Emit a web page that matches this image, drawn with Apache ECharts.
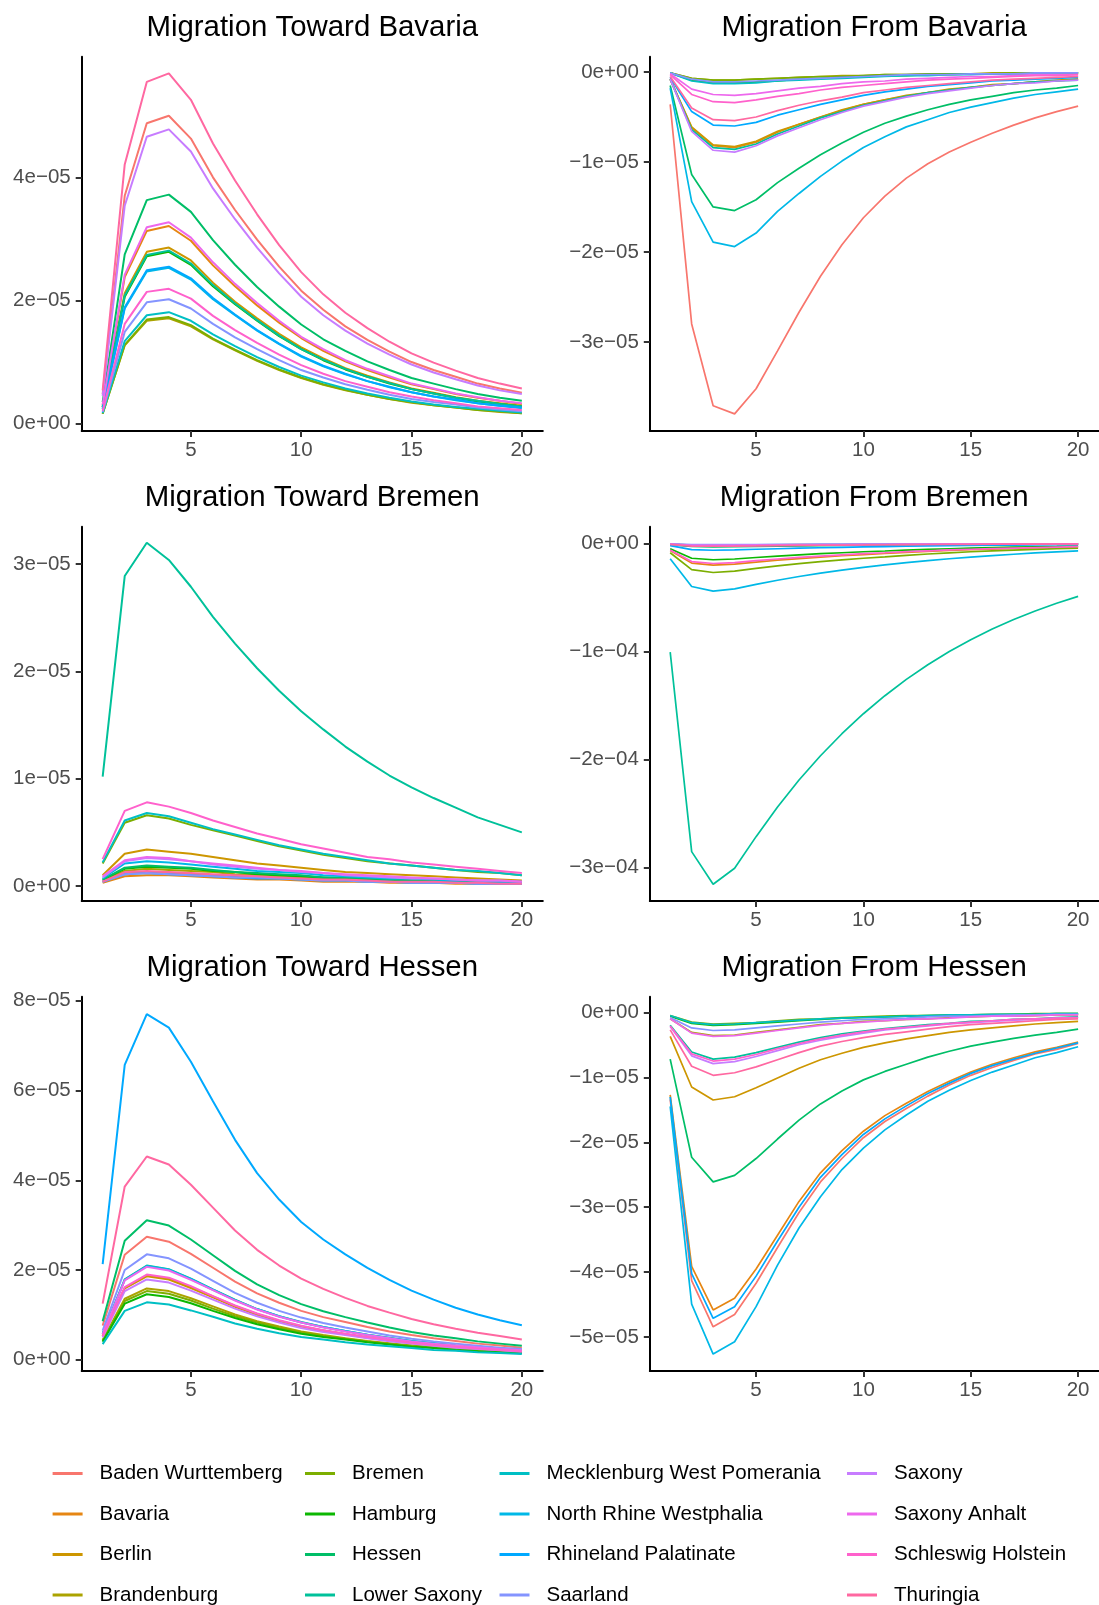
<!DOCTYPE html>
<html>
<head>
<meta charset="utf-8">
<title>Migration</title>
<script src="https://cdn.jsdelivr.net/npm/echarts@6/dist/echarts.min.js"></script>
<style>
  html, body { margin: 0; padding: 0; background: #fff; }
  #chart { width: 1099px; height: 1605px; }
</style>
</head>
<body>
<div id="chart"></div>
<script>
// values are in units of 1e-6
var states = ["Baden Wurttemberg", "Bavaria", "Berlin", "Brandenburg", "Bremen", "Hamburg", "Hessen",
  "Lower Saxony", "Mecklenburg West Pomerania", "North Rhine Westphalia", "Rhineland Palatinate",
  "Saarland", "Saxony", "Saxony Anhalt", "Schleswig Holstein", "Thuringia"];
var steps = [1, 2, 3, 4, 5, 6, 7, 8, 9, 10, 11, 12, 13, 14, 15, 16, 17, 18, 19, 20];
var xTicks = [5, 10, 15, 20];

var towardBavaria = [
  [4.8,37.0,48.8,50.0,46.3,40.0,34.7,29.9,25.5,21.6,18.5,15.8,13.6,11.7,10.0,8.7,7.6,6.5,5.7,5.0],
  [3.0,23.8,31.3,32.1,29.7,25.7,22.3,19.2,16.4,13.9,11.8,10.1,8.7,7.5,6.4,5.6,4.8,4.2,3.7,3.2],
  [2.7,21.2,27.9,28.6,26.5,22.9,19.8,17.1,14.6,12.4,10.6,9.0,7.8,6.7,5.7,5.0,4.3,3.7,3.3,2.9],
  [1.6,12.7,16.7,17.1,15.8,13.7,11.9,10.2,8.7,7.4,6.3,5.4,4.7,4.0,3.4,3.0,2.6,2.2,1.9,1.7],
  [1.6,12.8,16.9,17.3,16.0,13.8,12.0,10.3,8.8,7.5,6.4,5.5,4.7,4.0,3.5,3.0,2.6,2.2,2.0,1.7],
  [2.7,20.6,27.2,27.9,25.8,22.3,19.4,16.7,14.2,12.1,10.3,8.8,7.6,6.5,5.6,4.9,4.2,3.6,3.2,2.8],
  [3.5,27.5,36.3,37.2,34.4,29.8,25.8,22.2,19.0,16.1,13.7,11.8,10.1,8.7,7.4,6.5,5.6,4.8,4.2,3.7],
  [2.7,20.8,27.4,28.1,26.0,22.5,19.5,16.8,14.3,12.1,10.4,8.9,7.6,6.6,5.6,4.9,4.2,3.7,3.2,2.8],
  [1.7,13.4,17.6,18.1,16.7,14.5,12.6,10.8,9.2,7.8,6.7,5.7,4.9,4.2,3.6,3.1,2.7,2.4,2.1,1.8],
  [2.4,18.7,24.7,25.3,23.4,20.2,17.6,15.1,12.9,10.9,9.3,8.0,6.9,5.9,5.1,4.4,3.8,3.3,2.9,2.5],
  [2.4,18.9,24.9,25.5,23.6,20.4,17.7,15.2,13.0,11.0,9.4,8.1,6.9,6.0,5.1,4.4,3.9,3.3,2.9,2.6],
  [1.9,14.9,19.7,20.2,18.7,16.2,14.0,12.1,10.3,8.7,7.5,6.4,5.5,4.7,4.0,3.5,3.1,2.6,2.3,2.0],
  [4.5,35.4,46.6,47.8,44.2,38.2,33.2,28.6,24.4,20.6,17.6,15.1,13.0,11.2,9.6,8.3,7.2,6.2,5.4,4.8],
  [3.1,24.2,31.9,32.7,30.2,26.2,22.7,19.6,16.7,14.1,12.1,10.3,8.9,7.7,6.5,5.7,4.9,4.3,3.7,3.3],
  [2.1,16.2,21.4,21.9,20.3,17.5,15.2,13.1,11.2,9.5,8.1,6.9,6.0,5.1,4.4,3.8,3.3,2.8,2.5,2.2],
  [5.4,42.1,55.5,56.9,52.6,45.5,39.5,34.0,29.0,24.6,21.0,18.0,15.5,13.3,11.4,9.9,8.6,7.4,6.5,5.7]
];
var fromBavaria = [
  [-3.6,-28.0,-37.1,-38.0,-35.2,-31.0,-26.7,-22.7,-19.2,-16.2,-13.8,-11.8,-10.2,-8.9,-7.8,-6.8,-5.9,-5.1,-4.4,-3.8],
  [-0.8,-6.2,-8.2,-8.4,-7.8,-6.7,-5.8,-5.0,-4.3,-3.6,-3.1,-2.7,-2.3,-2.0,-1.7,-1.5,-1.3,-1.1,-1.0,-0.8],
  [-0.8,-6.1,-8.1,-8.3,-7.7,-6.6,-5.8,-5.0,-4.2,-3.6,-3.1,-2.6,-2.3,-1.9,-1.7,-1.4,-1.3,-1.1,-0.9,-0.8],
  [-0.1,-0.7,-0.9,-0.9,-0.8,-0.7,-0.6,-0.5,-0.4,-0.4,-0.3,-0.3,-0.2,-0.2,-0.2,-0.1,-0.1,-0.1,-0.1,-0.1],
  [-0.1,-0.7,-0.9,-0.9,-0.8,-0.7,-0.6,-0.5,-0.5,-0.4,-0.3,-0.3,-0.2,-0.2,-0.2,-0.2,-0.1,-0.1,-0.1,-0.1],
  [-0.1,-0.9,-1.2,-1.2,-1.1,-1.0,-0.8,-0.7,-0.6,-0.5,-0.4,-0.4,-0.3,-0.3,-0.2,-0.2,-0.2,-0.2,-0.1,-0.1],
  [-1.5,-11.4,-15.0,-15.4,-14.2,-12.3,-10.7,-9.2,-7.9,-6.7,-5.7,-4.9,-4.2,-3.6,-3.1,-2.7,-2.3,-2.0,-1.8,-1.5],
  [-0.8,-6.4,-8.4,-8.6,-8.0,-6.9,-6.0,-5.1,-4.4,-3.7,-3.2,-2.7,-2.3,-2.0,-1.7,-1.5,-1.3,-1.1,-1.0,-0.9],
  [-0.1,-1.0,-1.3,-1.3,-1.2,-1.0,-0.9,-0.8,-0.7,-0.6,-0.5,-0.4,-0.4,-0.3,-0.3,-0.2,-0.2,-0.2,-0.1,-0.1],
  [-1.8,-14.4,-18.9,-19.4,-17.9,-15.5,-13.5,-11.6,-9.9,-8.4,-7.2,-6.1,-5.3,-4.5,-3.9,-3.4,-2.9,-2.5,-2.2,-1.9],
  [-0.6,-4.4,-5.9,-6.0,-5.6,-4.8,-4.2,-3.6,-3.1,-2.6,-2.2,-1.9,-1.6,-1.4,-1.2,-1.0,-0.9,-0.8,-0.7,-0.6],
  [-0.1,-0.8,-1.1,-1.1,-1.0,-0.9,-0.8,-0.7,-0.6,-0.5,-0.4,-0.3,-0.3,-0.3,-0.2,-0.2,-0.2,-0.1,-0.1,-0.1],
  [-0.8,-6.6,-8.7,-8.9,-8.2,-7.1,-6.2,-5.3,-4.5,-3.8,-3.3,-2.8,-2.4,-2.1,-1.8,-1.5,-1.3,-1.2,-1.0,-0.9],
  [-0.2,-1.9,-2.5,-2.6,-2.4,-2.1,-1.8,-1.6,-1.3,-1.1,-1.0,-0.8,-0.7,-0.6,-0.5,-0.5,-0.4,-0.3,-0.3,-0.3],
  [-0.3,-2.5,-3.3,-3.4,-3.1,-2.7,-2.4,-2.0,-1.7,-1.5,-1.3,-1.1,-0.9,-0.8,-0.7,-0.6,-0.5,-0.4,-0.4,-0.3],
  [-0.5,-4.0,-5.3,-5.4,-5.0,-4.3,-3.7,-3.2,-2.8,-2.3,-2.0,-1.7,-1.5,-1.3,-1.1,-0.9,-0.8,-0.7,-0.6,-0.5]
];
var towardBremen = [
  [0.4,1.2,1.3,1.2,1.1,1.0,0.9,0.8,0.7,0.7,0.6,0.5,0.5,0.4,0.4,0.3,0.3,0.3,0.2,0.2],
  [0.3,0.9,1.0,1.0,0.9,0.8,0.7,0.6,0.6,0.5,0.4,0.4,0.4,0.3,0.3,0.3,0.2,0.2,0.2,0.2],
  [1.0,3.0,3.4,3.2,3.0,2.7,2.4,2.1,1.9,1.7,1.5,1.3,1.2,1.1,1.0,0.9,0.8,0.7,0.6,0.5],
  [0.5,1.4,1.6,1.5,1.4,1.3,1.1,1.0,0.9,0.8,0.7,0.6,0.6,0.5,0.5,0.4,0.4,0.3,0.3,0.2],
  [2.1,5.9,6.6,6.3,5.7,5.2,4.7,4.2,3.7,3.3,2.9,2.6,2.3,2.1,1.9,1.7,1.5,1.3,1.2,1.0],
  [0.6,1.6,1.8,1.7,1.6,1.4,1.3,1.1,1.0,0.9,0.8,0.7,0.6,0.6,0.5,0.5,0.4,0.4,0.3,0.3],
  [0.6,1.7,1.9,1.8,1.7,1.5,1.3,1.2,1.1,1.0,0.8,0.8,0.7,0.6,0.5,0.5,0.4,0.4,0.3,0.3],
  [10.2,28.9,32.0,30.4,27.9,25.1,22.6,20.3,18.2,16.3,14.6,13.0,11.6,10.3,9.2,8.2,7.3,6.4,5.7,5.0],
  [2.2,6.1,6.8,6.5,5.9,5.3,4.8,4.3,3.8,3.4,3.0,2.7,2.4,2.1,1.9,1.7,1.5,1.4,1.2,1.0],
  [0.7,2.1,2.3,2.2,2.0,1.8,1.6,1.4,1.3,1.2,1.0,0.9,0.8,0.7,0.7,0.6,0.5,0.5,0.4,0.4],
  [0.4,1.1,1.2,1.1,1.0,0.9,0.8,0.7,0.7,0.6,0.5,0.5,0.4,0.4,0.3,0.3,0.3,0.2,0.2,0.2],
  [0.4,1.1,1.2,1.1,1.0,0.9,0.8,0.8,0.7,0.6,0.5,0.5,0.4,0.4,0.3,0.3,0.3,0.2,0.2,0.2],
  [0.8,2.3,2.6,2.5,2.3,2.0,1.8,1.6,1.5,1.3,1.2,1.0,0.9,0.8,0.7,0.7,0.6,0.5,0.5,0.4],
  [0.9,2.4,2.7,2.6,2.3,2.1,1.9,1.7,1.5,1.4,1.2,1.1,1.0,0.9,0.8,0.7,0.6,0.5,0.5,0.4],
  [2.5,7.0,7.8,7.4,6.8,6.1,5.5,4.9,4.4,3.9,3.5,3.1,2.7,2.5,2.2,2.0,1.8,1.6,1.4,1.2],
  [0.4,1.3,1.4,1.3,1.2,1.1,1.0,0.9,0.8,0.7,0.6,0.6,0.5,0.4,0.4,0.4,0.3,0.3,0.2,0.2]
];
var fromBremen = [
  [-0.8,-2.3,-2.5,-2.4,-2.2,-1.9,-1.7,-1.6,-1.4,-1.3,-1.2,-1.0,-0.9,-0.8,-0.7,-0.6,-0.6,-0.5,-0.4,-0.4],
  [-6.4,-18.1,-20.0,-19.1,-17.2,-15.4,-13.9,-12.5,-11.3,-10.2,-9.2,-8.1,-7.2,-6.4,-5.7,-5.1,-4.5,-4.0,-3.5,-3.1],
  [-0.6,-1.8,-2.0,-1.9,-1.7,-1.5,-1.4,-1.3,-1.1,-1.0,-0.9,-0.8,-0.7,-0.6,-0.6,-0.5,-0.5,-0.4,-0.4,-0.3],
  [-0.5,-1.4,-1.5,-1.4,-1.3,-1.2,-1.0,-0.9,-0.9,-0.8,-0.7,-0.6,-0.5,-0.5,-0.4,-0.4,-0.3,-0.3,-0.3,-0.2],
  [-8.5,-24.2,-26.8,-25.5,-23.0,-20.7,-18.6,-16.8,-15.2,-13.6,-12.3,-10.9,-9.7,-8.6,-7.6,-6.8,-6.1,-5.4,-4.7,-4.2],
  [-4.8,-13.6,-15.0,-14.3,-12.9,-11.6,-10.4,-9.4,-8.5,-7.6,-6.9,-6.1,-5.4,-4.8,-4.3,-3.8,-3.4,-3.0,-2.7,-2.3],
  [-1.0,-2.7,-3.0,-2.9,-2.6,-2.3,-2.1,-1.9,-1.7,-1.5,-1.4,-1.2,-1.1,-1.0,-0.9,-0.8,-0.7,-0.6,-0.5,-0.5],
  [-100.6,-285.3,-315.5,-300.7,-271.4,-243.9,-219.0,-196.5,-176.1,-157.6,-140.9,-125.8,-112.2,-100.0,-89.0,-79.1,-70.3,-62.4,-55.3,-48.9],
  [-0.6,-1.8,-2.0,-1.9,-1.7,-1.5,-1.4,-1.3,-1.1,-1.0,-0.9,-0.8,-0.7,-0.6,-0.6,-0.5,-0.5,-0.4,-0.4,-0.3],
  [-14.0,-39.8,-44.0,-41.9,-37.8,-34.0,-30.5,-27.4,-24.6,-22.1,-19.8,-17.7,-15.8,-14.1,-12.5,-11.1,-9.9,-8.7,-7.7,-6.8],
  [-2.0,-5.6,-6.2,-5.9,-5.3,-4.8,-4.3,-3.9,-3.5,-3.1,-2.8,-2.5,-2.2,-2.0,-1.8,-1.6,-1.4,-1.2,-1.1,-1.0],
  [-0.3,-0.9,-1.0,-1.0,-0.9,-0.8,-0.7,-0.6,-0.6,-0.5,-0.5,-0.4,-0.4,-0.3,-0.3,-0.3,-0.2,-0.2,-0.2,-0.2],
  [-0.5,-1.4,-1.5,-1.4,-1.3,-1.2,-1.0,-0.9,-0.9,-0.8,-0.7,-0.6,-0.5,-0.5,-0.4,-0.4,-0.3,-0.3,-0.3,-0.2],
  [-0.6,-1.8,-2.0,-1.9,-1.7,-1.5,-1.4,-1.3,-1.1,-1.0,-0.9,-0.8,-0.7,-0.6,-0.6,-0.5,-0.5,-0.4,-0.4,-0.3],
  [-5.9,-16.7,-18.5,-17.6,-15.9,-14.3,-12.8,-11.6,-10.5,-9.4,-8.5,-7.5,-6.7,-5.9,-5.3,-4.7,-4.2,-3.7,-3.3,-2.9],
  [-0.8,-2.3,-2.5,-2.4,-2.2,-1.9,-1.7,-1.6,-1.4,-1.3,-1.1,-1.0,-0.9,-0.8,-0.7,-0.6,-0.6,-0.5,-0.4,-0.4]
];
var towardHessen = [
  [7.6,23.4,27.4,26.3,23.6,20.5,17.4,14.8,12.7,10.9,9.5,8.4,7.3,6.3,5.5,4.8,4.2,3.6,3.2,2.7],
  [5.2,16.0,18.8,18.1,16.2,14.1,12.0,10.2,8.7,7.5,6.5,5.7,5.0,4.3,3.8,3.3,2.9,2.5,2.2,1.9],
  [5.2,15.9,18.6,17.9,16.0,13.9,11.8,10.0,8.6,7.4,6.5,5.7,4.9,4.3,3.7,3.3,2.8,2.5,2.2,1.9],
  [4.4,13.6,15.9,15.3,13.7,11.9,10.1,8.6,7.4,6.3,5.5,4.8,4.2,3.7,3.2,2.8,2.4,2.1,1.9,1.6],
  [4.2,13.1,15.3,14.7,13.2,11.4,9.7,8.3,7.1,6.1,5.3,4.7,4.1,3.5,3.1,2.7,2.3,2.0,1.8,1.5],
  [4.0,12.5,14.6,14.0,12.6,10.9,9.3,7.9,6.8,5.8,5.1,4.5,3.9,3.4,2.9,2.6,2.2,1.9,1.7,1.5],
  [8.6,26.5,31.1,29.9,26.8,23.3,19.8,16.8,14.4,12.4,10.8,9.5,8.3,7.2,6.2,5.4,4.8,4.1,3.6,3.1],
  [5.8,17.9,21.0,20.2,18.1,15.7,13.4,11.3,9.7,8.4,7.3,6.4,5.6,4.9,4.2,3.7,3.2,2.8,2.5,2.1],
  [3.5,10.9,12.8,12.3,11.0,9.6,8.1,6.9,5.9,5.1,4.5,3.9,3.4,3.0,2.6,2.2,2.0,1.7,1.5,1.3],
  [5.8,17.8,20.9,20.1,18.0,15.6,13.3,11.3,9.7,8.3,7.3,6.4,5.6,4.8,4.2,3.7,3.2,2.8,2.4,2.1],
  [21.3,65.7,77.0,74.0,66.4,57.6,49.0,41.6,35.7,30.7,26.8,23.5,20.5,17.8,15.4,13.4,11.6,10.1,8.8,7.7],
  [6.5,20.0,23.5,22.6,20.3,17.6,14.9,12.7,10.9,9.4,8.2,7.2,6.3,5.4,4.7,4.1,3.6,3.1,2.7,2.4],
  [5.0,15.3,17.9,17.2,15.4,13.4,11.4,9.7,8.3,7.1,6.2,5.5,4.8,4.1,3.6,3.1,2.7,2.4,2.1,1.8],
  [5.7,17.7,20.7,19.9,17.8,15.5,13.2,11.2,9.6,8.3,7.2,6.3,5.5,4.8,4.1,3.6,3.2,2.8,2.4,2.1],
  [5.3,16.2,19.0,18.3,16.4,14.2,12.1,10.3,8.8,7.6,6.6,5.8,5.1,4.4,3.8,3.3,2.9,2.5,2.2,1.9],
  [12.5,38.6,45.3,43.5,39.0,33.9,28.8,24.5,21.0,18.1,15.8,13.8,12.0,10.5,9.1,7.9,6.9,6.0,5.3,4.5]
];
var fromHessen = [
  [-13.4,-41.3,-48.4,-46.5,-41.7,-36.2,-30.8,-26.1,-22.5,-19.3,-16.8,-14.8,-12.9,-11.2,-9.7,-8.5,-7.4,-6.4,-5.7,-4.8],
  [-12.7,-39.1,-45.8,-44.0,-39.5,-34.3,-29.1,-24.7,-21.3,-18.3,-15.9,-14.0,-12.2,-10.6,-9.2,-8.0,-7.0,-6.1,-5.4,-4.6],
  [-3.7,-11.5,-13.5,-13.0,-11.6,-10.1,-8.6,-7.3,-6.3,-5.4,-4.7,-4.1,-3.6,-3.1,-2.7,-2.4,-2.1,-1.8,-1.6,-1.4],
  [-1.0,-3.1,-3.6,-3.5,-3.1,-2.7,-2.3,-1.9,-1.7,-1.4,-1.3,-1.1,-1.0,-0.8,-0.7,-0.6,-0.6,-0.5,-0.4,-0.4],
  [-0.5,-1.5,-1.8,-1.7,-1.6,-1.3,-1.1,-1.0,-0.8,-0.7,-0.6,-0.5,-0.5,-0.4,-0.4,-0.3,-0.3,-0.2,-0.2,-0.2],
  [-0.6,-1.7,-2.0,-1.9,-1.7,-1.5,-1.3,-1.1,-0.9,-0.8,-0.7,-0.6,-0.5,-0.5,-0.4,-0.4,-0.3,-0.3,-0.2,-0.2],
  [-7.2,-22.3,-26.1,-25.1,-22.5,-19.5,-16.6,-14.1,-12.1,-10.4,-9.1,-8.0,-6.9,-6.0,-5.2,-4.6,-4.0,-3.5,-3.1,-2.6],
  [-2.0,-6.1,-7.2,-6.9,-6.2,-5.4,-4.6,-3.9,-3.3,-2.9,-2.5,-2.2,-1.9,-1.7,-1.4,-1.3,-1.1,-1.0,-0.8,-0.7],
  [-0.5,-1.6,-1.9,-1.8,-1.6,-1.4,-1.2,-1.0,-0.9,-0.8,-0.7,-0.6,-0.5,-0.4,-0.4,-0.3,-0.3,-0.3,-0.2,-0.2],
  [-14.5,-44.9,-52.6,-50.7,-45.3,-38.9,-33.2,-28.4,-24.2,-20.9,-18.1,-15.8,-13.7,-12.0,-10.5,-9.2,-8.1,-7.0,-6.2,-5.3],
  [-13.0,-40.2,-47.1,-45.3,-40.6,-35.2,-30.0,-25.4,-21.9,-18.8,-16.4,-14.4,-12.5,-10.9,-9.4,-8.2,-7.2,-6.3,-5.5,-4.7],
  [-0.8,-2.4,-2.8,-2.7,-2.4,-2.1,-1.8,-1.5,-1.3,-1.1,-1.0,-0.9,-0.7,-0.6,-0.6,-0.5,-0.4,-0.4,-0.3,-0.3],
  [-2.2,-6.7,-7.9,-7.6,-6.8,-5.9,-5.0,-4.3,-3.7,-3.2,-2.7,-2.4,-2.1,-1.8,-1.6,-1.4,-1.2,-1.1,-0.9,-0.8],
  [-1.0,-3.2,-3.7,-3.6,-3.2,-2.8,-2.4,-2.0,-1.7,-1.5,-1.3,-1.1,-1.0,-0.9,-0.7,-0.6,-0.6,-0.5,-0.4,-0.4],
  [-2.1,-6.4,-7.5,-7.2,-6.5,-5.6,-4.8,-4.1,-3.5,-3.0,-2.6,-2.3,-2.0,-1.7,-1.5,-1.3,-1.1,-1.0,-0.9,-0.8],
  [-2.7,-8.3,-9.7,-9.3,-8.4,-7.3,-6.2,-5.2,-4.5,-3.9,-3.4,-3.0,-2.6,-2.2,-1.9,-1.7,-1.5,-1.3,-1.1,-1.0]
];

var panelTitles = ["Migration Toward Bavaria", "Migration From Bavaria", "Migration Toward Bremen",
  "Migration From Bremen", "Migration Toward Hessen", "Migration From Hessen"];
var panelData = [towardBavaria, fromBavaria, towardBremen, fromBremen, towardHessen, fromHessen];
var yTicks = [[0, 20, 40], [-30, -20, -10, 0], [0, 10, 20, 30], [-300, -200, -100, 0],
  [0, 20, 40, 60, 80], [-50, -40, -30, -20, -10, 0]];
var yRange = [[-1.2, 59.6], [-39.9, 1.7], [-1.4, 33.5], [-331, 15.6], [-2.5, 80.9], [-55.2, 2.4]];

var FONT = "'Liberation Sans', Arial, sans-serif";
var MINUS = "\u2212";

// ggplot-style hue palette (hcl, c = 100, l = 65)
function hcl(h, c, l) {
  var d = Math.PI / 180;
  var U = c * Math.cos(h * d), V = c * Math.sin(h * d);
  var Y = l > 8 ? Math.pow((l + 16) / 116, 3) : l / 903.3;
  var den = 0.95047 + 15 + 3 * 1.08883;
  var up = U / (13 * l) + 4 * 0.95047 / den, vp = V / (13 * l) + 9 / den;
  var X = 9 * Y * up / (4 * vp);
  var Z = -X / 3 - 5 * Y + 3 * Y / vp;
  var rgb = [3.240479 * X - 1.537150 * Y - 0.498535 * Z,
    -0.969256 * X + 1.875992 * Y + 0.041556 * Z,
    0.055648 * X - 0.204043 * Y + 1.057311 * Z];
  return "#" + rgb.map(function (v) {
    v = v <= 0.0031308 ? 12.92 * v : 1.055 * Math.pow(v, 1 / 2.4) - 0.055;
    v = Math.round(Math.max(0, Math.min(1, v)) * 255);
    return (v < 16 ? "0" : "") + v.toString(16);
  }).join("");
}
var colors = states.map(function (s, i) { return hcl(15 + 360 * i / states.length, 100, 65); });

// 1e-6 units -> "4e-05" like R
function sci(v) {
  if (Math.abs(v) < 1e-9) return "0e+00";
  var e = Math.floor(Math.log10(Math.abs(v)) + 1e-9);
  var m = Math.round(v / Math.pow(10, e));
  var p = e - 6;
  var ms = (m < 0 ? MINUS : "") + Math.abs(m);
  return ms + "e" + (p < 0 ? MINUS : "+") + (Math.abs(p) < 10 ? "0" : "") + Math.abs(p);
}

var colLeft = [81.7, 649.8], colWidth = [461.1, 448.7];
var rowTop = [56.7, 526.7, 996.7], plotH = 374.3;
var lineW = [2.0, 1.7];

var grids = [], xAxes = [], yAxes = [], series = [], graphics = [];
panelData.forEach(function (rows, p) {
  var c = p % 2, r = Math.floor(p / 2);
  grids.push({ left: colLeft[c], top: rowTop[r], width: colWidth[c], height: plotH });
  xAxes.push({
    type: "value", gridIndex: p, min: 0.05, max: 20.95,
    axisLine: { onZero: false, lineStyle: { color: "#000", width: 2 } },
    axisTick: { customValues: xTicks, length: 6, lineStyle: { color: "#333", width: 2 } },
    axisLabel: { customValues: xTicks, color: "#4D4D4D", fontSize: 20.5, fontFamily: FONT, margin: 9 },
    splitLine: { show: false }
  });
  yAxes.push({
    type: "value", gridIndex: p, min: yRange[p][0], max: yRange[p][1],
    axisLine: { show: true, onZero: false, lineStyle: { color: "#000", width: 2 } },
    axisTick: { show: true, customValues: yTicks[p], length: 6, lineStyle: { color: "#333", width: 2 } },
    axisLabel: { customValues: yTicks[p], color: "#4D4D4D", fontSize: 20.5, fontFamily: FONT, margin: 11, formatter: sci },
    splitLine: { show: false }
  });
  graphics.push({
    type: "text", x: colLeft[c] + colWidth[c] / 2, y: rowTop[r] - 29,
    style: { text: panelTitles[p], fill: "#000", fontSize: 29.4, fontFamily: FONT, textAlign: "center", textVerticalAlign: "middle" }
  });
  rows.forEach(function (vals, s) {
    series.push({
      type: "line", name: states[s], xAxisIndex: p, yAxisIndex: p,
      data: steps.map(function (x, i) { return [x, vals[i]]; }),
      symbol: "none", showSymbol: false, silent: true,
      lineStyle: { width: lineW[c], color: colors[s] }, itemStyle: { color: colors[s] }
    });
  });
});

// legend: 4 columns of 4
var legendX = [52.6, 305, 499.5, 847];
var legends = legendX.map(function (x, k) {
  return {
    orient: "vertical", left: x, top: 1463, height: 160, padding: 0,
    itemWidth: 30, itemHeight: 3, itemGap: 19.5,
    icon: "rect", selectedMode: false,
    data: states.slice(k * 4, k * 4 + 4),
    textStyle: { fontSize: 20.5, fontFamily: FONT, color: "#000", lineHeight: 20, padding: [0, 0, 0, 12] }
  };
});

var myChart = echarts.init(document.getElementById("chart"));
myChart.setOption({
  backgroundColor: "#fff",
  animation: false,
  textStyle: { fontFamily: FONT },
  grid: grids,
  xAxis: xAxes,
  yAxis: yAxes,
  legend: legends,
  graphic: graphics,
  series: series
});
</script>
</body>
</html>
